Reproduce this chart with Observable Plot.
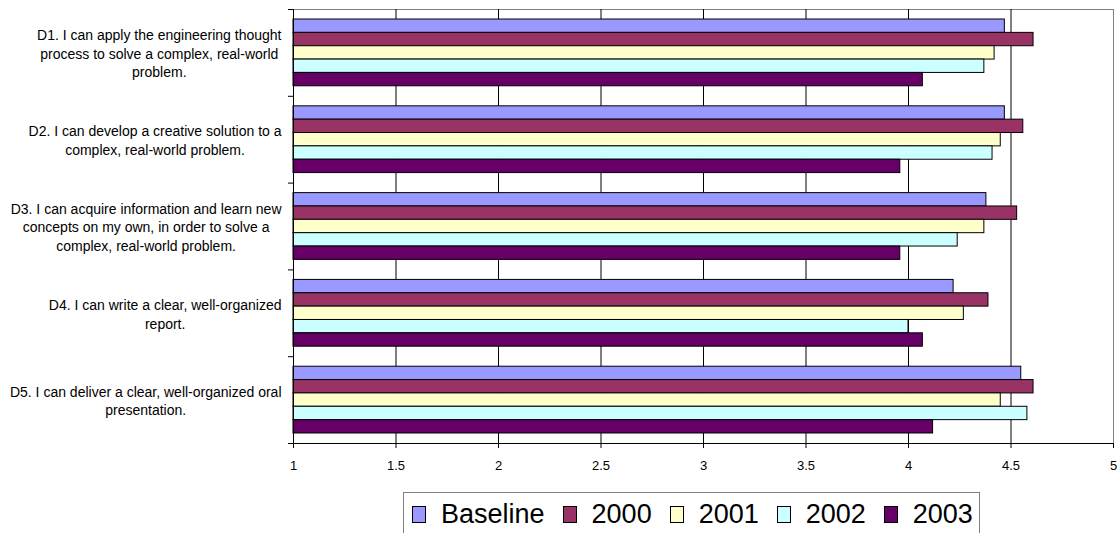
<!DOCTYPE html>
<html>
<head>
<meta charset="utf-8">
<script src="https://cdn.jsdelivr.net/npm/d3@7"></script>
<script src="https://cdn.jsdelivr.net/npm/@observablehq/plot@0.6"></script>
<style>
  body { margin: 0; background: #fff; font-family: "Liberation Sans", Arial, sans-serif; }
  #chart { position: relative; width: 1119px; height: 533px; overflow: hidden; background: #fff; }
  #legend {
    position: absolute; left: 403px; top: 492px; width: 577px; height: 44px;
    box-sizing: border-box; border: 1px solid #808080; background: #fff;
    display: flex; align-items: center; padding-left: 8px;
    font-family: "Liberation Sans", Arial, sans-serif; font-size: 27px; color: #000;
  }
  #legend .item { display: flex; align-items: center; margin-right: 18px; white-space: nowrap; }
  #legend .swatch { width: 14px; height: 17px; box-sizing: border-box; border: 1px solid #000; margin-right: 15px; }
</style>
</head>
<body>
<div id="chart"></div>
<script>
// Survey statements (line breaks as they wrap beside the bars)
const categories = [
  "D1. I can apply the engineering thought\nprocess to solve a complex, real-world\nproblem.",
  "D2. I can develop a creative solution to a\ncomplex, real-world problem.",
  "D3. I can acquire information and learn new\nconcepts on my own, in order to solve a\ncomplex, real-world problem.",
  "D4. I can write a clear, well-organized\nreport.",
  "D5. I can deliver a clear, well-organized oral\npresentation."
];

// Series (one bar per series inside each statement group)
const seriesNames = ["Baseline", "2000", "2001", "2002", "2003"];
const seriesColors = ["#9999FF", "#993366", "#FFFFCC", "#CCFFFF", "#660066"];

// Mean self-rating per statement, D1..D5
const baseline = [4.47, 4.47, 4.38, 4.22, 4.55];
const y2000    = [4.61, 4.56, 4.53, 4.39, 4.61];
const y2001    = [4.42, 4.45, 4.37, 4.27, 4.45];
const y2002    = [4.37, 4.41, 4.24, 4.00, 4.58];
const y2003    = [4.07, 3.96, 3.96, 4.07, 4.12];

// Value axis ticks
const xTicks = [1, 1.5, 2, 2.5, 3, 3.5, 4, 4.5, 5];

const seriesValues = [baseline, y2000, y2001, y2002, y2003];

// Each statement owns one unit of the y scale; the bars of a group fill the
// middle of it, with a gap of 0.75 bar-heights above and below.
const groupGap = 0.75;
const slots = seriesNames.length + 2 * groupGap;

const rows = [];
categories.forEach((category, i) => {
  seriesNames.forEach((series, j) => {
    rows.push({
      category, series, value: seriesValues[j][i],
      y1: i + (groupGap + j) / slots,
      y2: i + (groupGap + j + 1) / slots
    });
  });
});

const W = 1119, H = 485;
const boundaries = d3.range(categories.length + 1);

const chart = Plot.plot({
  width: W,
  height: H,
  marginTop: 9,
  marginBottom: 42,
  marginLeft: 293,
  marginRight: 6,
  style: { fontFamily: "'Liberation Sans', Arial, sans-serif", fontSize: "13px", color: "#000", background: "#fff" },
  x: { domain: [1, 5], label: null },
  y: { domain: [0, categories.length], reverse: true, axis: null },
  color: { domain: seriesNames, range: seriesColors },
  marks: [
    Plot.frame({ stroke: "#808080" }),
    Plot.ruleX(xTicks.slice(1, -1), { stroke: "#000", strokeWidth: 1 }),
    Plot.rect(rows, {
      x1: 1, x2: "value", y1: "y1", y2: "y2",
      fill: "series", stroke: "#000", strokeWidth: 1
    }),
    Plot.ruleX([1], { stroke: "#000" }),
    Plot.ruleY([categories.length], { stroke: "#000" }),
    Plot.axisY({ ticks: boundaries, tickSize: 5, tickFormat: () => "", stroke: "#000", label: null }),
    Plot.axisX({ ticks: xTicks, tickSize: 5, tickPadding: 12, fontSize: 13, tickFormat: d => String(d), stroke: "#000", fill: "#000", label: null }),
    Plot.text(categories, {
      y: (d, i) => i + 0.5,
      frameAnchor: "left",
      dx: -12,
      textAnchor: "end",
      lineHeight: 1.33,
      fontSize: 14,
      fill: "#000"
    })
  ]
});

const root = document.getElementById("chart");
root.appendChild(chart);

// Centre each wrapped label on its own widest line, keeping the block's
// right edge next to the axis.
chart.querySelectorAll('g[aria-label="text"] text').forEach(t => {
  const spans = t.querySelectorAll("tspan");
  const lines = spans.length ? [...spans] : [t];
  const w = Math.max(...lines.map(s => s.getComputedTextLength()));
  t.setAttribute("text-anchor", "middle");
  const tr = t.getAttribute("transform") || "";
  t.setAttribute("transform", `${tr} translate(${-w / 2},0)`);
});

// Legend
const legend = document.createElement("div");
legend.id = "legend";
seriesNames.forEach((name, i) => {
  const item = document.createElement("div");
  item.className = "item";
  const sw = document.createElement("span");
  sw.className = "swatch";
  sw.style.background = seriesColors[i];
  const label = document.createElement("span");
  label.textContent = name;
  item.appendChild(sw);
  item.appendChild(label);
  legend.appendChild(item);
});
root.appendChild(legend);
</script>
</body>
</html>
